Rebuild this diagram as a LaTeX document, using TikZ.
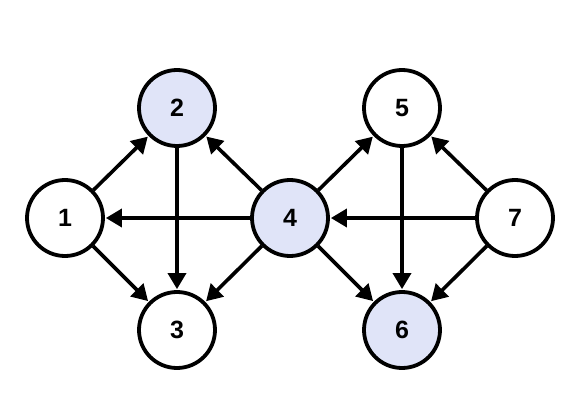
\documentclass[tikz,border=0pt]{standalone}
\usepackage{fontspec}
\setmainfont{Liberation Sans}
\usetikzlibrary{arrows.meta}
\definecolor{lav}{HTML}{E0E4F8}
\begin{document}
\begin{tikzpicture}[x=1pt,y=-1pt,
  vtx/.style={circle,draw=black,line width=3.8pt,fill=white,minimum size=76pt,inner sep=0pt,font=\bfseries\fontsize{25}{30}\selectfont},
  hl/.style={vtx,fill=lav},
  edge/.style={line width=3.6pt,-{Triangle[length=16pt,width=18pt]},shorten >=1pt}]
\useasboundingbox (0,0) rectangle (582,420);
\fill[white] (0,0) rectangle (582,420);
\node[vtx] (n1) at (65,218) {1};
\node[hl] (n2) at (177,108) {2};
\node[vtx] (n3) at (177,330) {3};
\node[hl] (n4) at (290,218) {4};
\node[vtx] (n5) at (402,108) {5};
\node[hl] (n6) at (402,330) {6};
\node[vtx] (n7) at (515,218) {7};
\draw[edge] (n1) -- (n2);
\draw[edge] (n1) -- (n3);
\draw[edge] (n2) -- (n3);
\draw[edge] (n4) -- (n2);
\draw[edge] (n4) -- (n3);
\draw[edge] (n4) -- (n1);
\draw[edge] (n4) -- (n5);
\draw[edge] (n4) -- (n6);
\draw[edge] (n5) -- (n6);
\draw[edge] (n7) -- (n4);
\draw[edge] (n7) -- (n5);
\draw[edge] (n7) -- (n6);
\end{tikzpicture}
\end{document}
